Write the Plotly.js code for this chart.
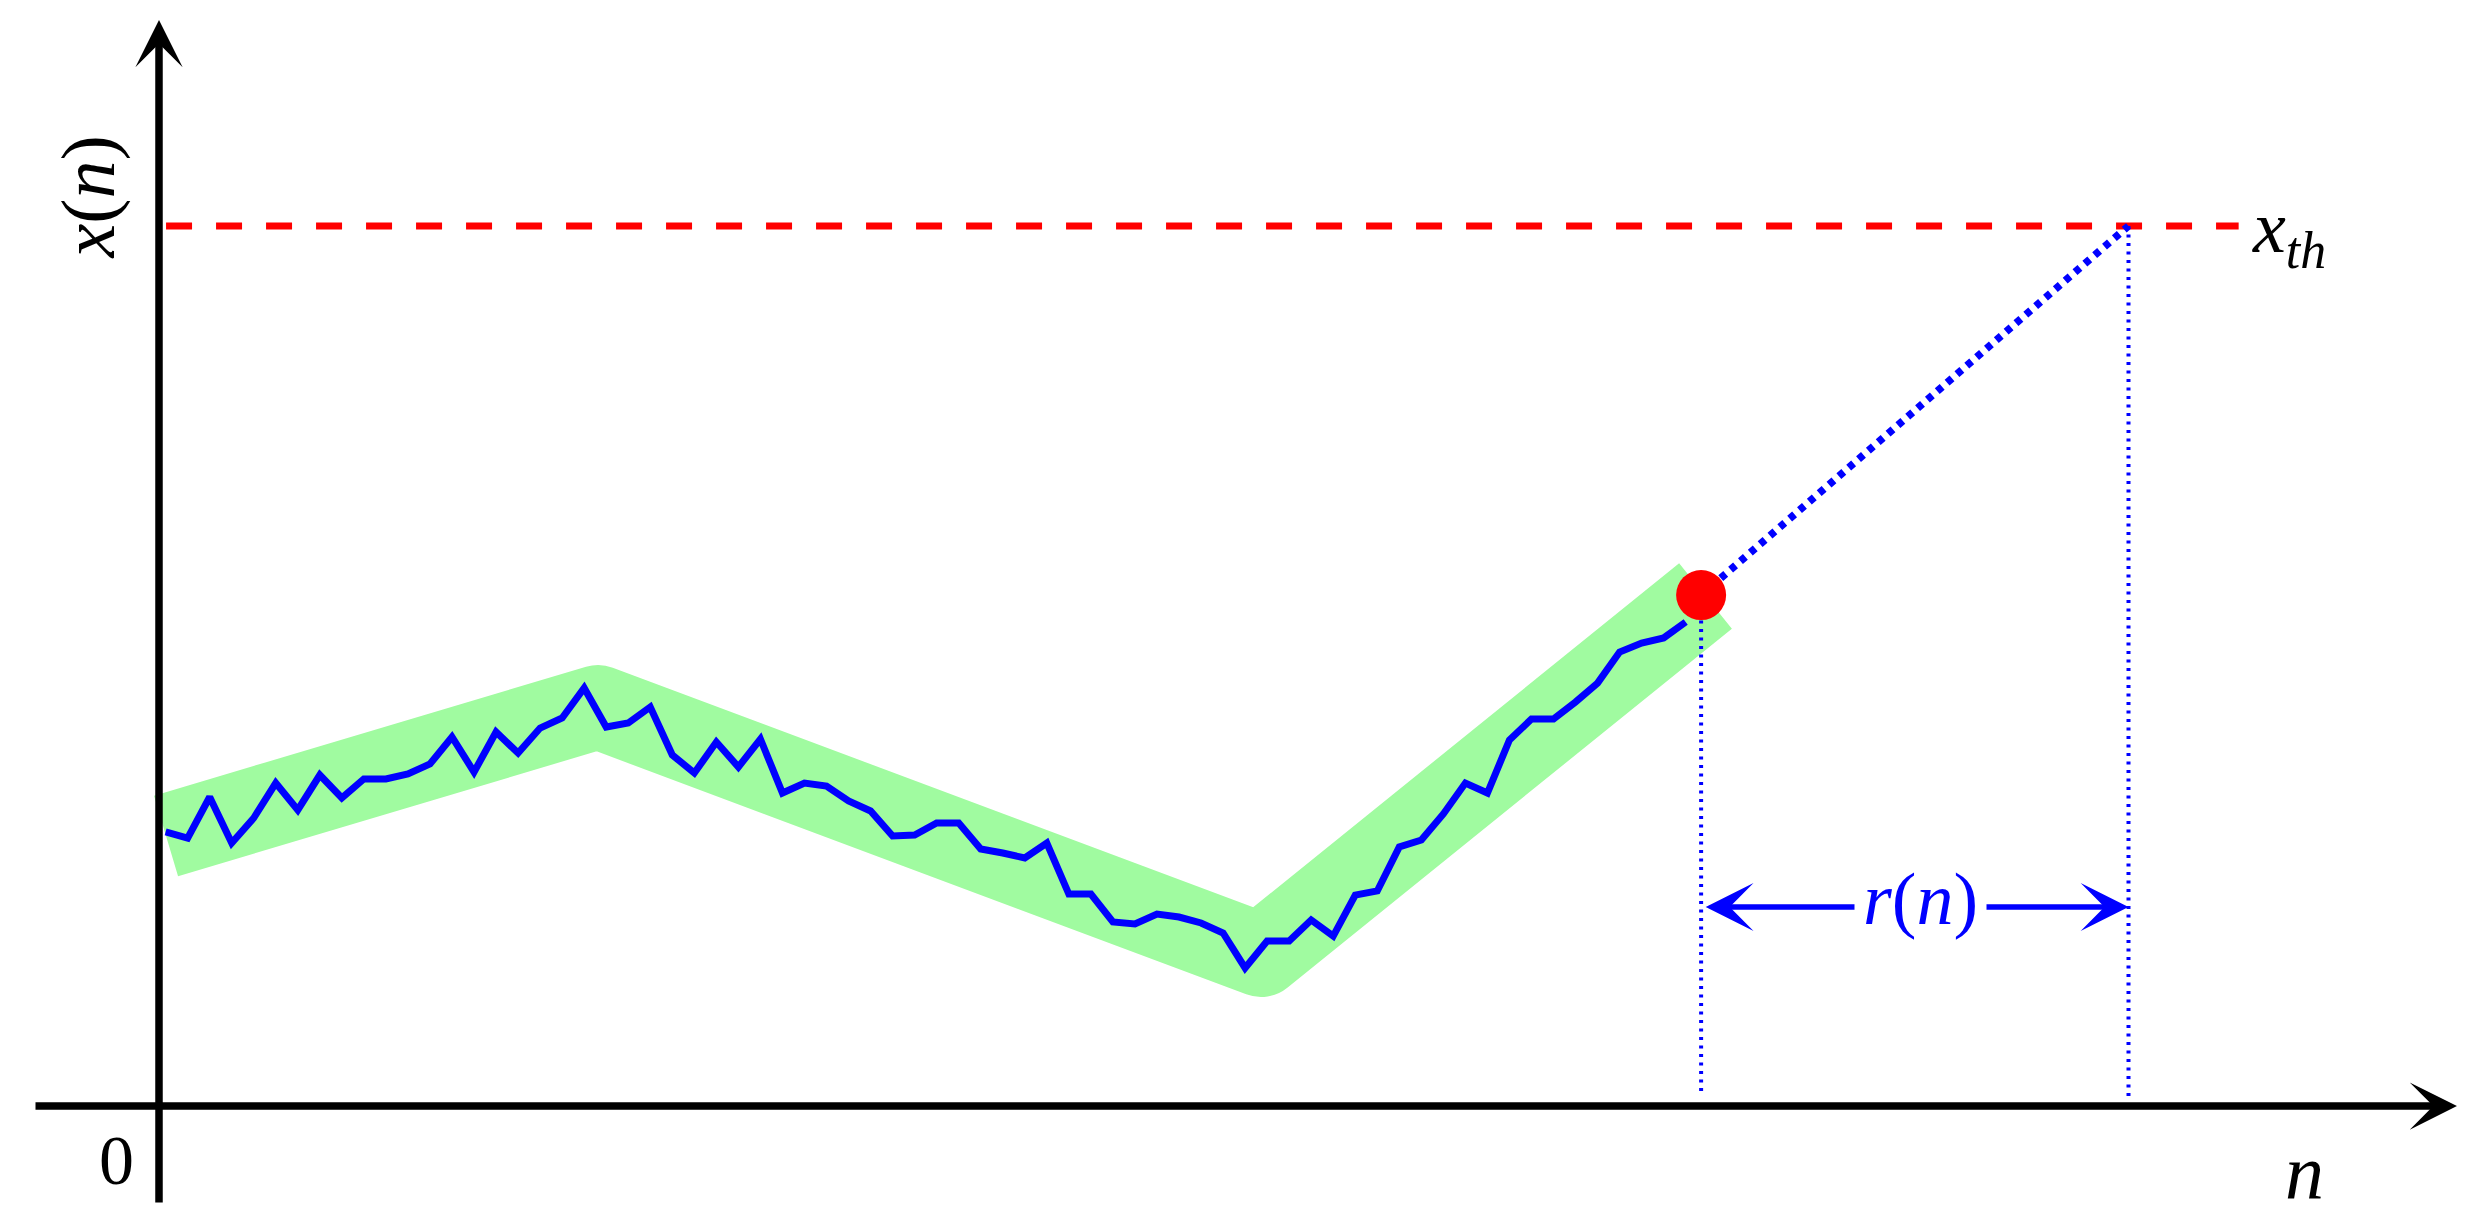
<!DOCTYPE html>
<html>
<head>
<meta charset="utf-8">
<script src="https://cdn.plot.ly/plotly-3.0.1.min.js"></script>
<style>
html,body{margin:0;padding:0;background:#ffffff;}
#chart{width:2479px;height:1230px;}
</style>
</head>
<body>
<div id="chart"></div>
<script>
// ---- data ----
// sampled signal x(n): uniform samples starting at n = 0.3, step 1
const signalStartN = 0.3;
const signalStepN = 1;
const signalValues = [
  2.491, 2.436, 2.809, 2.391, 2.618, 2.936, 2.691, 3.009, 2.800, 2.973,
  2.973, 3.018, 3.109, 3.355, 3.036, 3.400, 3.209, 3.436, 3.527, 3.800,
  3.445, 3.482, 3.627, 3.191, 3.027, 3.309, 3.082, 3.336, 2.845, 2.936,
  2.909, 2.773, 2.682, 2.455, 2.464, 2.573, 2.573, 2.336, 2.300, 2.255,
  2.391, 1.927, 1.927, 1.673, 1.655, 1.745, 1.718, 1.664, 1.573, 1.255,
  1.500, 1.500, 1.691, 1.545, 1.918, 1.955, 2.355, 2.418, 2.655, 2.936,
  2.845, 3.327, 3.518, 3.518, 3.673, 3.845, 4.127, 4.209, 4.255, 4.400
];
// piecewise-linear trend (green band)
const trendN = [0.32, 19.93, 50.02, 70.2];
const trendX = [2.455, 3.627, 1.373, 4.636];
// current point and extrapolation to threshold
const currentN = [70.0];
const currentX = [4.645];
const thresholdValue = 8.0;
const thresholdN = [0.32, 94.4];
const crossingN = 89.4;
const predictN = [70.0, 89.4];
const predictX = [4.645, 8.0];
// vertical guides
const guideN = [70.0, 70.0, null, 89.4, 89.4];
const guideX = [4.645, 0.09, null, 8.0, 0.09];
// r(n) arrow level
const rArrowLevel = 1.809;
// axis extents (data units)
const axisN = [-5.674, 104.31];
const axisX = [-0.891, 9.873];
// labels
const labelTexts = {xn: '<i>x</i>(<i>n</i>)', n: '<i>n</i>', zero: '0', rn: '<i>r</i>(<i>n</i>)', xth: '<i>x</i><sub><i>th</i></sub>'};

// ---- traces ----
const serif = 'Liberation Serif, DejaVu Serif, serif';

const traces = [
  {
    x: trendN, y: trendX, mode: 'lines', type: 'scatter',
    line: {color: '#a0fba0', width: 84}, hoverinfo: 'skip', name: 'trend'
  },
  {
    y: signalValues, x0: signalStartN, dx: signalStepN, mode: 'lines', type: 'scatter',
    line: {color: '#0000ff', width: 7}, hoverinfo: 'skip', name: 'signal'
  },
  {
    x: thresholdN, y: [thresholdValue, thresholdValue], mode: 'lines', type: 'scatter',
    line: {color: '#ff0000', width: 7, dash: '26px,24px'}, hoverinfo: 'skip', name: 'threshold'
  },
  {
    x: guideN, y: guideX, mode: 'lines', type: 'scatter',
    line: {color: '#0000ff', width: 4, dash: '3px,5.5px'}, hoverinfo: 'skip', name: 'guides'
  },
  {
    x: predictN, y: predictX, mode: 'lines', type: 'scatter',
    line: {color: '#0000ff', width: 7.5, dash: '6.5px,6.5px'}, hoverinfo: 'skip', name: 'prediction'
  },
  {
    x: currentN, y: currentX, mode: 'markers', type: 'scatter',
    marker: {color: '#ff0000', size: 50, line: {width: 0}}, hoverinfo: 'skip', name: 'current'
  }
];

const annotations = [
  // x axis arrow
  {x: axisN[1], y: 0, ax: axisN[0], ay: 0, xref: 'x', yref: 'y', axref: 'x', ayref: 'y',
   text: '', font: {size: 1}, showarrow: true, arrowhead: 3, arrowsize: 1.05, arrowwidth: 7.5, arrowcolor: '#000000', standoff: 0},
  // y axis arrow
  {x: 0, y: axisX[1], ax: 0, ay: axisX[0], xref: 'x', yref: 'y', axref: 'x', ayref: 'y',
   text: '', font: {size: 1}, showarrow: true, arrowhead: 3, arrowsize: 1.05, arrowwidth: 7.5, arrowcolor: '#000000', standoff: 0},
  // r(n) double arrow
  {x: crossingN, y: rArrowLevel, ax: currentN[0] + 0.14, ay: rArrowLevel, xref: 'x', yref: 'y', axref: 'x', ayref: 'y',
   text: '', font: {size: 1}, showarrow: true, arrowside: 'end+start', arrowhead: 3, startarrowhead: 3,
   arrowsize: 1.45, startarrowsize: 1.45, arrowwidth: 5.5, arrowcolor: '#0000ff', standoff: 0, startstandoff: 0},
  // r(n) label
  {x: 79.94, y: 1.882, xref: 'x', yref: 'y', text: labelTexts.rn, showarrow: false,
   font: {family: serif, size: 74, color: '#0000ff'}, bgcolor: '#ffffff', borderpad: 8, xanchor: 'center', yanchor: 'middle'},
  // x(n) label
  {x: -3.2, y: 8.264, xref: 'x', yref: 'y', text: labelTexts.xn, showarrow: false, textangle: -90,
   font: {family: serif, size: 76, color: '#000000'}, xanchor: 'center', yanchor: 'middle'},
  // 0 label
  {x: -1.907, y: -0.491, xref: 'x', yref: 'y', text: labelTexts.zero, showarrow: false,
   font: {family: serif, size: 70, color: '#000000'}, xanchor: 'center', yanchor: 'middle'},
  // n label
  {x: 97.41, y: -0.609, xref: 'x', yref: 'y', text: labelTexts.n, showarrow: false,
   font: {family: serif, size: 78, color: '#000000'}, xanchor: 'center', yanchor: 'middle'},
  // x_th label
  {x: 94.9, y: thresholdValue, xref: 'x', yref: 'y', text: labelTexts.xth, showarrow: false,
   font: {family: serif, size: 74, color: '#000000'}, xanchor: 'left', yanchor: 'middle', yshift: -6}
];

const layout = {
  width: 2479, height: 1230, autosize: false,
  margin: {l: 0, r: 0, t: 0, b: 0, pad: 0},
  paper_bgcolor: '#ffffff', plot_bgcolor: '#ffffff',
  showlegend: false,
  xaxis: {range: [-7.2174, 105.31], visible: false, fixedrange: true},
  yaxis: {range: [-1.1273, 10.0545], visible: false, fixedrange: true},
  annotations: annotations
};

Plotly.newPlot('chart', traces, layout, {staticPlot: true, displayModeBar: false}).then(function (gd) {
  const paths = gd.querySelectorAll('.scatterlayer .trace');
  if (paths.length) {
    const p = paths[0].querySelector('path.js-line');
    if (p) p.style.strokeLinejoin = 'round';
  }
});
</script>
</body>
</html>
